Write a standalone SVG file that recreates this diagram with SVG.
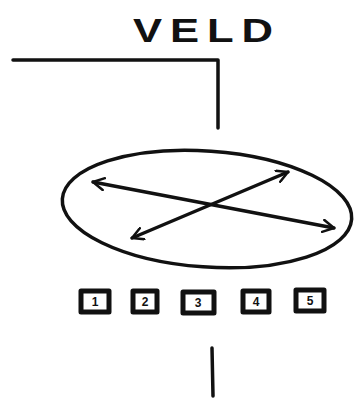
<svg xmlns="http://www.w3.org/2000/svg" width="356" height="401" viewBox="0 0 356 401">
<style>
.ln{fill:none;stroke:#111;stroke-width:3.5;stroke-linecap:round;stroke-linejoin:round}
.bx{fill:none;stroke:#111;stroke-width:5;stroke-linejoin:round}
.num{font-family:"Liberation Sans",Arial,sans-serif;font-size:12px;font-weight:bold;fill:#111;text-anchor:middle}
.title{font-family:"Liberation Sans",Arial,sans-serif;font-size:33px;font-weight:bold;fill:#111;letter-spacing:6px}
</style>
<defs>
<marker id="ah" viewBox="0 0 14 14" refX="12" refY="7" markerWidth="14" markerHeight="14" markerUnits="userSpaceOnUse" orient="auto-start-reverse">
<path d="M1,1 L12,7 L1,13" fill="none" stroke="#111" stroke-width="2.5" stroke-linecap="round" stroke-linejoin="round"/>
</marker>
</defs>
<text class="title" x="133" y="42" textLength="148" lengthAdjust="spacingAndGlyphs">VELD</text>
<g id="connectors">
<path class="ln" d="M13,60 L218,60 L218,128"/>
<path class="ln" d="M212,348 L213,396"/>
</g>
<g id="ellipse">
<ellipse cx="207" cy="209" rx="145" ry="58" transform="rotate(4 207 209)" class="ln"/>
<path class="ln" d="M93,182 L334,228" marker-start="url(#ah)" marker-end="url(#ah)"/>
<path class="ln" d="M132,238 L288,172" marker-start="url(#ah)" marker-end="url(#ah)"/>
</g>
<g id="box1"><rect class="bx" x="81" y="291" width="28" height="21"/><text class="num" x="95" y="306">1</text></g>
<g id="box2"><rect class="bx" x="133" y="291" width="24" height="21"/><text class="num" x="145" y="306">2</text></g>
<g id="box3"><rect class="bx" x="183" y="292" width="31" height="21"/><text class="num" x="198" y="307">3</text></g>
<g id="box4"><rect class="bx" x="243" y="291" width="26" height="21"/><text class="num" x="256" y="306">4</text></g>
<g id="box5"><rect class="bx" x="296" y="290" width="28" height="21"/><text class="num" x="310" y="305">5</text></g>
</svg>
